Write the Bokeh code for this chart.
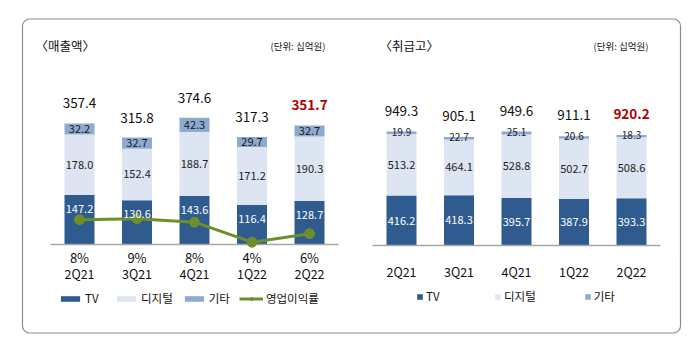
from bokeh.plotting import figure
from bokeh.models import Range1d, ColumnDataSource, BoxAnnotation, Legend, LegendItem, Label
from bokeh.core.properties import value
from bokeh.embed import file_html
from bokeh.resources import INLINE

# ---- data ----
quarters = ["2Q21", "3Q21", "4Q21", "1Q22", "2Q22"]
rev_tv = [147.2, 130.6, 143.6, 116.4, 128.7]
rev_digital = [178.0, 152.4, 188.7, 171.2, 190.3]
rev_other = [32.2, 32.7, 42.3, 29.7, 32.7]
rev_total = [357.4, 315.8, 374.6, 317.3, 351.7]
op_margin = [8.4, 8.6, 7.9, 3.9, 5.6]
op_margin_labels = ["8%", "9%", "8%", "4%", "6%"]
vol_tv = [416.2, 418.3, 395.7, 387.9, 393.3]
vol_digital = [513.2, 464.1, 528.8, 502.7, 508.6]
vol_other = [19.9, 22.7, 25.1, 20.6, 18.3]
vol_total = [949.3, 905.1, 949.6, 911.1, 920.2]

FONT = "Noto Sans CJK KR"
C_TV = "#2F5B8E"
C_DIG = "#DCE5F1"
C_OTH = "#8EAAD0"
C_LINE = "#6E8E2E"
RED = "#B00000"

W, H = 698, 351
PX_X = 57.5          # px per category step
X0 = 79              # px of first left bar
RIGHT_SHIFT = 5.6    # category offset of right panel
BW = 30 / PX_X
LEFT_BASE = 244
RIGHT_BASE = 245
LS = 0.3386          # px per unit revenue
RS = 0.12            # px per unit volume
MS = 5.0             # px per % margin
M0 = 3.44            # margin value at left baseline

p = figure(width=W, height=H, output_backend="svg", toolbar_location=None,
           x_axis_location=None, y_axis_location=None, min_border=0,
           x_range=Range1d(-X0 / PX_X, (W - X0) / PX_X),
           y_range=Range1d(-(H - LEFT_BASE) / LS, LEFT_BASE / LS))
p.extra_y_ranges = {
    "vol": Range1d(-(H - RIGHT_BASE) / RS, RIGHT_BASE / RS),
    "mgn": Range1d(M0 - (H - LEFT_BASE) / MS, M0 + LEFT_BASE / MS),
}
p.grid.visible = False
p.outline_line_color = None
p.background_fill_color = "white"
p.border_fill_color = "white"

def dx(px):
    return (px - X0) / PX_X

def dy(px):
    return (LEFT_BASE - px) / LS

# outer rounded frame
p.add_layout(BoxAnnotation(left=dx(22), right=dx(680), top=dy(18.5), bottom=dy(332.5),
                           fill_alpha=0, line_color="#8C8C8C", line_alpha=1, line_width=1.2,
                           border_radius=7, level="underlay"))

# ---- left panel: revenue ----
lx = list(range(5))
rx = [i + RIGHT_SHIFT for i in range(5)]

ls = ColumnDataSource(dict(
    x=lx, tv=rev_tv,
    b_dig=rev_tv, t_dig=[a + b for a, b in zip(rev_tv, rev_digital)],
    t_oth=[a + b + c for a, b, c in zip(rev_tv, rev_digital, rev_other)],
    m_dig=[a + b / 2 for a, b in zip(rev_tv, rev_digital)],
    m_oth=[a + b + c / 2 for a, b, c in zip(rev_tv, rev_digital, rev_other)],
    tv_s=[f"{v:.1f}" for v in rev_tv], dig_s=[f"{v:.1f}" for v in rev_digital],
    oth_s=[f"{v:.1f}" for v in rev_other], tot_s=[f"{v:.1f}" for v in rev_total],
    tot_c=["#111111"] * 4 + [RED], tot_w=["normal"] * 4 + ["bold"],
    mg=op_margin, mg_s=op_margin_labels, q=quarters, zero=[0] * 5,
))

r_ltv = p.vbar(x="x", bottom=0, top="tv", width=BW, source=ls, color=C_TV, line_color=None)
r_ldig = p.vbar(x="x", bottom="b_dig", top="t_dig", width=BW, source=ls, color=C_DIG, line_color=None)
r_loth = p.vbar(x="x", bottom="t_dig", top="t_oth", width=BW, source=ls, color=C_OTH, line_color=None)

p.segment(x0=dx(50), x1=dx(338), y0=0, y1=0, line_color="#A6A6A6", line_width=1.5)

r_line = p.line(x="x", y="mg", source=ls, y_range_name="mgn", line_color=C_LINE, line_width=3)
r_dot = p.scatter(x="x", y="mg", source=ls, y_range_name="mgn", size=10,
                  fill_color=C_LINE, line_color=C_LINE)

common = dict(text_font=value(FONT), text_align="center", text_baseline="middle")

p.text(x="x", y="tv", text="tv_s", source=ls, y_offset=14, text_color="white",
       text_font_size="11px", **common)
p.text(x="x", y="m_dig", text="dig_s", source=ls, text_color="#222222",
       text_font_size="11px", **common)
p.text(x="x", y="m_oth", text="oth_s", source=ls, text_color="#1a1a1a",
       text_font_size="11px", **common)
p.text(x="x", y="t_oth", text="tot_s", source=ls, y_offset=-20, text_color="tot_c",
       text_font_style="tot_w", text_font_size="13.5px", **common)
p.text(x="x", y="zero", text="mg_s", source=ls, y_offset=13, text_color="#111111",
       text_font_size="13px", **common)
p.text(x="x", y="zero", text="q", source=ls, y_offset=29, text_color="#111111",
       text_font_size="12.5px", **common)

# ---- right panel: volume ----
rs = ColumnDataSource(dict(
    x=rx, tv=vol_tv, b_dig=vol_tv,
    t_dig=[a + b for a, b in zip(vol_tv, vol_digital)],
    t_oth=[a + b + c for a, b, c in zip(vol_tv, vol_digital, vol_other)],
    m_tv=[a / 2 for a in vol_tv],
    m_dig=[a + b / 2 for a, b in zip(vol_tv, vol_digital)],
    tv_s=[f"{v:.1f}" for v in vol_tv], dig_s=[f"{v:.1f}" for v in vol_digital],
    oth_s=[f"{v:.1f}" for v in vol_other], tot_s=[f"{v:.1f}" for v in vol_total],
    tot_c=["#111111"] * 4 + [RED], tot_w=["normal"] * 4 + ["bold"],
    q=quarters, zero=[0] * 5,
))
r_rtv = p.vbar(x="x", bottom=0, top="tv", width=BW, source=rs, y_range_name="vol",
               color=C_TV, line_color=None)
r_rdig = p.vbar(x="x", bottom="b_dig", top="t_dig", width=BW, source=rs, y_range_name="vol",
                color=C_DIG, line_color=None)
r_roth = p.vbar(x="x", bottom="t_dig", top="t_oth", width=BW, source=rs, y_range_name="vol",
                color=C_OTH, line_color=None)
p.segment(x0=dx(372), x1=dx(660), y0=0, y1=0, y_range_name="vol",
          line_color="#A6A6A6", line_width=1.5)

p.text(x="x", y="m_tv", text="tv_s", source=rs, y_range_name="vol", text_color="white",
       text_font_size="11px", **common)
p.text(x="x", y="m_dig", text="dig_s", source=rs, y_range_name="vol", text_color="#222222",
       text_font_size="11px", **common)
p.text(x="x", y="t_oth", text="oth_s", source=rs, y_range_name="vol", text_color="#222222",
       text_font_size="10px", **common)
p.text(x="x", y="t_oth", text="tot_s", source=rs, y_range_name="vol", y_offset=-21,
       text_color="tot_c", text_font_style="tot_w", text_font_size="13.5px", **common)
p.text(x="x", y="zero", text="q", source=rs, y_range_name="vol", y_offset=26,
       text_color="#111111", text_font_size="12.5px", **common)

# ---- titles ----
def lab(px, py, txt, size, align="left", color="#111111", style="normal"):
    p.add_layout(Label(x=dx(px), y=dy(py), text=txt, text_font=FONT, text_font_size=size,
                       text_align=align, text_baseline="middle", text_color=color,
                       text_font_style=style))

lab(35, 45, "〈매출액〉", "12.5px")
lab(327, 45, "(단위:  십억원)", "9.5px", align="right")
lab(379, 45, "〈취급고〉", "12.5px")
lab(650, 45, "(단위:  십억원)", "9.5px", align="right")

# ---- legends ----
leg1 = Legend(items=[
    LegendItem(label="TV", renderers=[r_ltv]),
    LegendItem(label="디지털", renderers=[r_ldig]),
    LegendItem(label="기타", renderers=[r_loth]),
    LegendItem(label="영업이익률", renderers=[r_line, r_dot]),
], orientation="horizontal", location=(58, 45), glyph_width=24, glyph_height=7,
    label_standoff=3, spacing=9, padding=0, margin=0, background_fill_alpha=0,
    border_line_color=None, label_text_font=FONT, label_text_font_size="11.5px",
    label_text_color="#111111", label_height=14)
leg2 = Legend(items=[
    LegendItem(label="TV", renderers=[r_rtv]),
    LegendItem(label="디지털", renderers=[r_rdig]),
    LegendItem(label="기타", renderers=[r_roth]),
], orientation="horizontal", location=(416, 47), glyph_width=7, glyph_height=7,
    label_standoff=3, spacing=48, padding=0, margin=0, background_fill_alpha=0,
    border_line_color=None, label_text_font=FONT, label_text_font_size="11.5px",
    label_text_color="#111111", label_height=14)
p.add_layout(leg1, "center")
p.add_layout(leg2, "center")

open("out.html", "w").write(file_html(p, INLINE))
